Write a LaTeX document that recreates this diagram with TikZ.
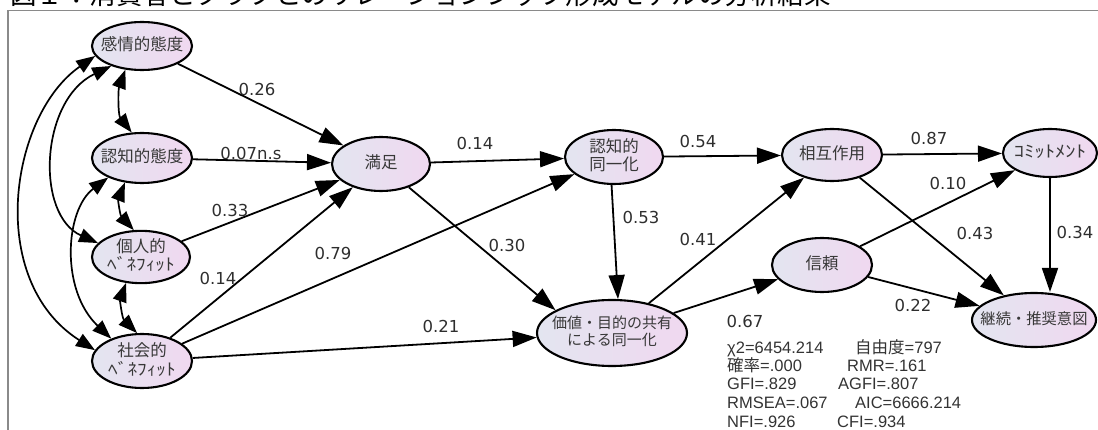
\documentclass[tikz,border=0pt]{standalone}
\usepackage{fontspec}
\usepackage{graphicx}
\setmainfont{DejaVu Sans}
\newfontfamily\jp{Noto Sans CJK JP}
\newfontfamily\lib{Liberation Sans}
\usetikzlibrary{arrows.meta,shapes.geometric}
\definecolor{ellL}{HTML}{E3E5F0}
\definecolor{ellR}{HTML}{F0D8F0}
\definecolor{lbl}{HTML}{2E2E2E}
\definecolor{framec}{HTML}{8A8A8A}
\newcommand\ztext[1]{\makebox[0pt]{\begin{tabular}{@{}c@{}}#1\end{tabular}}}
\begin{document}
\begin{tikzpicture}[x=1pt,y=-1pt,
  var/.style={ellipse, draw=black, line width=2.1pt, inner sep=0pt,
    left color=ellL, right color=ellR, text=black!78,
    font=\jp\fontsize{16.5}{15}\selectfont},
  causal/.style={line width=1.8pt, -{Triangle[length=24pt,width=16pt]}},
  cov/.style={line width=1.7pt, {Triangle[length=19pt,width=14pt]}-{Triangle[length=19pt,width=14pt]}},
  coef/.style={font=\fontsize{16.5}{18}\selectfont, text=lbl, inner sep=0pt},
  stat/.style={font=\lib\fontsize{16.5}{18}\selectfont, anchor=base west, inner sep=0pt, text=black!80},
]
\useasboundingbox (0,0) rectangle (1098,430);

% title (cut at top) and frame
\node[anchor=base west, inner sep=0pt, font=\jp\fontsize{26.5}{28}\selectfont] (title) at (10,5)
  {図１：消費者とクラブとのリレーションシップ形成モデルの分析結果};
\coordinate (fbl) at (8,432);
\coordinate (ftl) at (8,10.5);
\coordinate (ftr) at (1100,10.5);
\draw[framec, line width=1.6pt] (fbl) -- (ftl) -- (ftr);

% variables
\node[var, minimum width=100, minimum height=48] (A) at (142,46) {\ztext{感情的態度}};
\node[var, minimum width=100, minimum height=50] (B) at (142,158) {\ztext{認知的態度}};
\node[var, minimum width=98, minimum height=52] (C) at (141,257) {\ztext{個人的\\\scalebox{1.17}[1]{ﾍﾞﾈﾌｨｯﾄ}}};
\node[var, minimum width=100, minimum height=54] (D) at (142,361) {\ztext{社会的\\\scalebox{1.17}[1]{ﾍﾞﾈﾌｨｯﾄ}}};
\node[var, minimum width=98, minimum height=54] (S) at (381,164) {\ztext{満足}};
\node[var, minimum width=98, minimum height=54] (N) at (614,157) {\ztext{認知的\\同一化}};
\node[var, minimum width=150, minimum height=66, font=\jp\fontsize{15}{15}\selectfont] (V) at (612,333) {\ztext{価値・目的の共有\\による同一化}};
\node[var, minimum width=100, minimum height=52] (I) at (832,155) {\ztext{相互作用}};
\node[var, minimum width=100, minimum height=54] (T) at (822,265) {\ztext{信頼}};
\node[var, minimum width=94, minimum height=48] (M) at (1050,153) {\ztext{\scalebox{1.25}[1]{ｺﾐｯﾄﾒﾝﾄ}}};
\node[var, minimum width=124, minimum height=54, font=\jp\fontsize{15.3}{15}\selectfont] (K) at (1034,320) {\ztext{継続・推奨意図}};

% covariances
\draw[cov] (A.192) .. controls (10,115) and (-15,280) .. (D.167);
\draw[cov] (A.213) .. controls (40,100) and (35,215) .. (C.162);
\draw[cov] (B.210) .. controls (65,210) and (60,290) .. (D.144);
\draw[cov] (A.235) .. controls (118,90) and (118,115) .. (B.112);
\draw[cov] (B.235) .. controls (118,200) and (120,215) .. (C.105);
\draw[cov] (C.240) .. controls (120,300) and (122,318) .. (D.100);

% paths
\draw[causal] (A) -- (S);
\draw[causal] (B) -- (S);
\draw[causal] (C) -- (S);
\draw[causal] (D) -- (S);
\draw[causal] (D) -- (N);
\draw[causal] (D) -- (V);
\draw[causal] (S) -- (N);
\draw[causal] (S) -- (V.158);
\draw[causal] (N.-95) -- (V.80);
\draw[causal] (N) -- (I);
\draw[causal] (V) -- (I);
\draw[causal] (V) -- (T);
\draw[causal] (I) -- (M);
\draw[causal] (T) -- (M);
\draw[causal] (I) -- (K);
\draw[causal] (T) -- (K);
\draw[causal] (M.south) -- (M.south |- K.north);

% coefficients
\node[coef] (c1) at (257,89) {0.26};
\node[coef] (c2) at (251,153) {0.07n.s};
\node[coef] (c3) at (230,210) {0.33};
\node[coef] (c4) at (218,278) {0.14};
\node[coef] (c5) at (333,253) {0.79};
\node[coef] (c6) at (441,326) {0.21};
\node[coef] (c7) at (475,143) {0.14};
\node[coef] (c8) at (507,245) {0.30};
\node[coef] (c9) at (641,217) {0.53};
\node[coef] (c10) at (698,141) {0.54};
\node[coef] (c11) at (698,239) {0.41};
\node[coef] (c12) at (745,321) {0.67};
\node[coef] (c13) at (929,138) {0.87};
\node[coef] (c14) at (948,183) {0.10};
\node[coef] (c15) at (975,233) {0.43};
\node[coef] (c16) at (913,305) {0.22};
\node[coef] (c17) at (1075,232) {0.34};

% fit statistics
\node[stat] (s1l) at (727,353) {χ2=6454.214};
\node[stat] (s1r) at (855,353) {{\jp 自由度}=797};
\node[stat] (s2l) at (727,371) {{\jp 確率}=.000};
\node[stat] (s2r) at (847,371) {RMR=.161};
\node[stat] (s3l) at (727,389) {GFI=.829};
\node[stat] (s3r) at (838,389) {AGFI=.807};
\node[stat] (s4l) at (727,408) {RMSEA=.067};
\node[stat] (s4r) at (855,408) {AIC=6666.214};
\node[stat] (s5l) at (727,427) {NFI=.926};
\node[stat] (s5r) at (837,427) {CFI=.934};
\end{tikzpicture}
\end{document}
